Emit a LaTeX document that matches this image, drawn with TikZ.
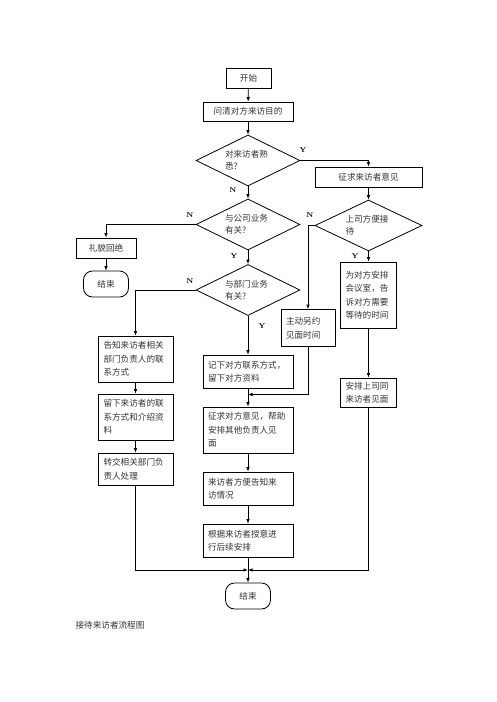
\documentclass[tikz,border=0pt]{standalone}
\usepackage{fontspec}
\newfontfamily\cjk{Noto Sans CJK SC}
\usetikzlibrary{shapes.geometric,arrows.meta,positioning,calc}

\tikzset{
  flowbox/.style={draw, line width=0.8pt, inner sep=0pt, align=left,
    font=\cjk\fontsize{8.6}{13.5}\selectfont, text=black!80},
  decision/.style={draw, diamond, aspect=2, line width=0.8pt, inner sep=0pt,
    minimum width=104pt, minimum height=51pt, text width=46pt, align=left,
    font=\cjk\fontsize{8.6}{12}\selectfont, text=black!80},
  terminal/.style={draw, rounded corners=9pt, line width=0.8pt, inner sep=0pt,
    minimum width=45pt, minimum height=26pt,
    font=\cjk\fontsize{8.6}{13.5}\selectfont, text=black!80},
  flowarrow/.style={-{Latex[length=4.5pt,width=3.6pt]}, line width=0.8pt},
  yn/.style={font=\fontsize{7}{7}\selectfont\bfseries, inner sep=0pt}
}

\begin{document}
\begin{tikzpicture}[x=1pt, y=-1pt]
  \useasboundingbox[fill=white] (0,0) rectangle (496,702);

  % top part
  \node[flowbox, minimum width=45pt, minimum height=20pt, align=center] (start) at (248.5,78) {开始};
  \node[flowbox, minimum width=90pt, minimum height=19pt, align=center] (askpurpose) at (248,111.5) {问清对方来访目的};
  \node[decision] (knowdec) at (248,160.5) {对来访者熟\\悉?};
  \node[flowbox, minimum width=107pt, minimum height=20pt, align=center] (seekopinion) at (368.5,177) {征求来访者意见};
  \node[decision] (bizdec) at (248,224.5) {与公司业务\\有关?};
  \node[decision, minimum width=107pt] (bossdec) at (368.5,225.5) {上司方便接\\待};
  \node[decision] (deptdec) at (248,290) {与部门业务\\有关?};

  % left branch
  \node[flowbox, minimum width=60pt, minimum height=20pt, align=center] (refuse) at (106,248) {礼貌回绝};
  \node[terminal] (endleft) at (106,284) {结束};
  \node[flowbox, minimum width=75pt, minimum height=46pt, text width=64pt] (tellcontact) at (135.5,359)
       {告知来访者相关\\部门负责人的联\\系方式};
  \node[flowbox, minimum width=75pt, minimum height=46pt, text width=64pt] (leaveinfo) at (135.5,417)
       {留下来访者的联\\系方式和介绍资\\料};
  \node[flowbox, minimum width=75pt, minimum height=32pt, text width=64pt] (transfer) at (135.5,469)
       {转交相关部门负\\责人处理};

  % middle column
  \node[flowbox, minimum width=90pt, minimum height=33pt, text width=80pt] (recordinfo) at (248,371.5)
       {记下对方联系方式，\\留下对方资料};
  \node[flowbox, minimum width=90pt, minimum height=46pt, text width=80pt] (otherhead) at (248,430)
       {征求对方意见，帮助\\安排其他负责人见\\面};
  \node[flowbox, minimum width=90pt, minimum height=33pt, text width=80pt] (notify) at (248,488.5)
       {来访者方便告知来\\访情况};
  \node[flowbox, minimum width=90pt, minimum height=33pt, text width=80pt] (follow) at (248,540.5)
       {根据来访者授意进\\行后续安排};
  \node[terminal] (endmain) at (248,596) {结束};

  % right branch
  \node[flowbox, minimum width=54pt, minimum height=37pt, text width=44pt] (rearrange) at (308,328)
       {主动另约\\见面时间};
  \node[flowbox, minimum width=56pt, minimum height=66pt, text width=46pt] (arrangeroom) at (368.5,295)
       {为对方安排\\会议室，告\\诉对方需要\\等待的时间};
  \node[flowbox, minimum width=56pt, minimum height=29pt, text width=46pt] (bossmeet) at (368.5,392.5)
       {安排上司同\\来访者见面};

  \node[font=\cjk\fontsize{8.6}{10}\selectfont, text=black!80] (caption) at (110,625) {接待来访者流程图};

  % Y / N labels
  \node[yn] (knowY) at (303,150) {Y};
  \node[yn] (knowN) at (233,190) {N};
  \node[yn] (bizN) at (190,215) {N};
  \node[yn] (bizY) at (234,256) {Y};
  \node[yn] (deptN) at (190,281) {N};
  \node[yn] (deptY) at (262,326) {Y};
  \node[yn] (bossN) at (310,215) {N};
  \node[yn] (bossY) at (355,256) {Y};

  \coordinate (joinrecord) at (248,394.5);
  \coordinate (joinend) at (248,570);

  % connectors
  \draw[flowarrow] (start) -- (askpurpose);
  \draw[flowarrow] (askpurpose) -- (knowdec);
  \draw[flowarrow] (knowdec.east) -| (seekopinion.north);
  \draw[flowarrow] (knowdec) -- (bizdec);
  \draw[flowarrow] (bizdec.west) -| (refuse.north);
  \draw[flowarrow] (refuse) -- (endleft);
  \draw[flowarrow] (bizdec) -- (deptdec);
  \draw[flowarrow] (deptdec.west) -| (tellcontact.north);
  \draw[flowarrow] (deptdec) -- (recordinfo);
  \draw[flowarrow] (tellcontact) -- (leaveinfo);
  \draw[flowarrow] (leaveinfo) -- (transfer);
  \draw[flowarrow] (seekopinion) -- (bossdec);
  \draw[flowarrow] (bossdec.west) -| (rearrange.north);
  \draw[flowarrow] (bossdec) -- (arrangeroom);
  \draw[flowarrow] (arrangeroom) -- (bossmeet);
  \draw[flowarrow] (rearrange.south) |- (joinrecord);
  \draw[flowarrow] (recordinfo) -- (otherhead);
  \draw[flowarrow] (otherhead) -- (notify);
  \draw[flowarrow] (notify) -- (follow);
  \draw[flowarrow] (follow) -- (endmain);
  \draw[flowarrow] (transfer.south) |- (joinend);
  \draw[flowarrow] (bossmeet.south) |- (joinend);
\end{tikzpicture}
\end{document}
